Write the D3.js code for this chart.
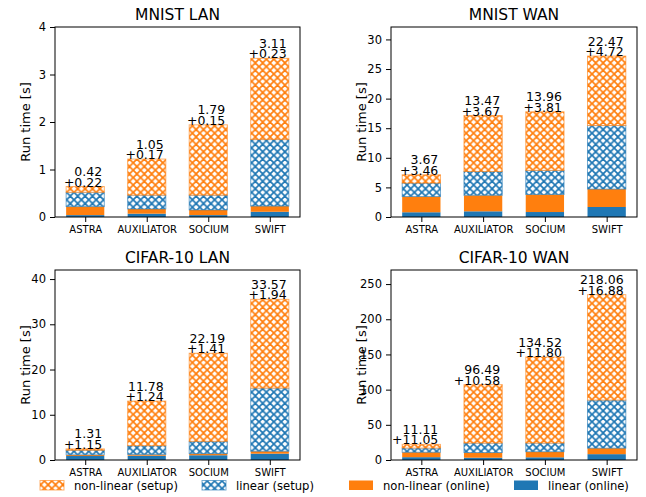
<!DOCTYPE html>
<html>
<head>
<meta charset="utf-8">
<script src="https://cdn.jsdelivr.net/npm/d3@7"></script>
<style>
  body { margin: 0; background: #fff; }
  svg { display: block; font-family: "DejaVu Sans", sans-serif; }
</style>
</head>
<body>
<div id="chart"></div>
<script>
// DATA
const categories = ["ASTRA", "AUXILIATOR", "SOCIUM", "SWIFT"];
const panelTitles = ["MNIST LAN", "MNIST WAN", "CIFAR-10 LAN", "CIFAR-10 WAN"];

const linearOnline = [
    [0.04, 0.07, 0.04, 0.11],
    [0.80, 0.96, 0.84, 1.69],
    [0.88, 0.95, 1.05, 1.40],
    [4.0, 3.3, 3.8, 8.3]
];
const nonLinearOnline = [
    [0.18, 0.10, 0.11, 0.12],
    [2.66, 2.71, 2.97, 3.03],
    [0.27, 0.29, 0.36, 0.54],
    [7.05, 7.28, 8.00, 8.58]
];
const linearSetup = [
    [0.30, 0.29, 0.31, 1.40],
    [2.27, 4.03, 4.06, 10.74],
    [1.00, 1.92, 2.72, 13.96],
    [5.95, 13.50, 12.30, 68.30]
];
const nonLinearSetup = [
    [0.12, 0.76, 1.48, 1.71],
    [1.40, 9.44, 9.90, 11.73],
    [0.31, 9.86, 19.47, 19.61],
    [5.16, 82.99, 122.22, 149.76]
];
// labels above bars
const setupLabels = [
    ["0.42", "1.05", "1.79", "3.11"],
    ["3.67", "13.47", "13.96", "22.47"],
    ["1.31", "11.78", "22.19", "33.57"],
    ["11.11", "96.49", "134.52", "218.06"]
];
const onlineLabels = [
    ["+0.22", "+0.17", "+0.15", "+0.23"],
    ["+3.46", "+3.67", "+3.81", "+4.72"],
    ["+1.15", "+1.24", "+1.41", "+1.94"],
    ["+11.05", "+10.58", "+11.80", "+16.88"]
];
const yMax = [4, 32.1, 42, 270];
const yTicks = [
    [0, 1, 2, 3, 4],
    [0, 5, 10, 15, 20, 25, 30],
    [0, 10, 20, 30, 40],
    [0, 50, 100, 150, 200, 250]
];

const legendLabels = ["non-linear (setup)", "linear (setup)", "non-linear (online)", "linear (online)"];

// COLORS
const BLUE = "#1f77b4";
const ORANGE = "#ff7f0e";

// LAYOUT
const width = 646, height = 497;
const boxes = [
    { l: 55, r: 300, t: 27, b: 217 },
    { l: 391, r: 637, t: 27, b: 217 },
    { l: 55, r: 300, t: 270, b: 460 },
    { l: 391, r: 637, t: 270, b: 460 }
];
const barW = 0.62;

const svg = d3.select("#chart").append("svg")
    .attr("width", width)
    .attr("height", height);

// HATCH PATTERNS
const defs = svg.append("defs");
function addHatch(id, color) {
    const p = 7.4;
    const pat = defs.append("pattern")
        .attr("id", id)
        .attr("patternUnits", "userSpaceOnUse")
        .attr("width", p).attr("height", p);
    pat.append("rect").attr("width", p).attr("height", p).attr("fill", "#fff");
    pat.append("path")
        .attr("d", `M${-p / 2},${p / 2} L${p / 2},${-p / 2} M0,${p} L${p},0 M${p / 2},${p * 1.5} L${p * 1.5},${p / 2}` +
            ` M${-p / 2},${p / 2} L${p / 2},${p * 1.5} M0,0 L${p},${p} M${p / 2},${-p / 2} L${p * 1.5},${p / 2}`)
        .attr("stroke", color)
        .attr("stroke-width", 1.7)
        .attr("fill", "none");
}
addHatch("hatchBlue", BLUE);
addHatch("hatchOrange", ORANGE);

const layers = [
    { data: linearOnline, fill: BLUE, hatched: false, color: BLUE },
    { data: nonLinearOnline, fill: ORANGE, hatched: false, color: ORANGE },
    { data: linearSetup, fill: "url(#hatchBlue)", hatched: true, color: BLUE },
    { data: nonLinearSetup, fill: "url(#hatchOrange)", hatched: true, color: ORANGE }
];

boxes.forEach(function (box, pi) {
    const g = svg.append("g");
    const span = 3 + barW;
    const x = d3.scaleLinear()
        .domain([-barW / 2 - 0.05 * span, 3 + barW / 2 + 0.05 * span])
        .range([box.l, box.r]);
    const y = d3.scaleLinear()
        .domain([0, yMax[pi]])
        .range([box.b, box.t]);
    const bw = x(barW) - x(0);

    // STACKED BARS
    const base = categories.map(() => 0);
    layers.forEach(function (layer) {
        g.selectAll(null)
            .data(categories)
            .enter().append("rect")
            .attr("x", (d, i) => x(i) - bw / 2)
            .attr("width", bw)
            .attr("y", (d, i) => y(base[i] + layer.data[pi][i]))
            .attr("height", (d, i) => y(base[i]) - y(base[i] + layer.data[pi][i]))
            .attr("fill", layer.fill)
            .attr("stroke", layer.hatched ? layer.color : "none")
            .attr("stroke-opacity", 0.6)
            .attr("stroke-width", 1);
        categories.forEach((c, i) => { base[i] += layer.data[pi][i]; });
    });

    // VALUE LABELS
    categories.forEach(function (c, i) {
        const top = y(base[i]);
        const lbl = g.append("text")
            .attr("text-anchor", "end")
            .attr("font-size", "12.5px")
            .attr("fill", "#000");
        lbl.append("tspan")
            .attr("x", x(i) + 17)
            .attr("y", top - 10.5)
            .text(setupLabels[pi][i]);
        lbl.append("tspan")
            .attr("x", x(i) + 17)
            .attr("y", top)
            .text(onlineLabels[pi][i]);
    });

    // AXES
    const yAxis = d3.axisLeft(y)
        .tickValues(yTicks[pi])
        .tickSize(5)
        .tickPadding(4)
        .tickFormat(d3.format("d"));
    const ya = g.append("g")
        .attr("transform", `translate(${box.l},0)`)
        .call(yAxis);
    ya.select(".domain").remove();
    ya.selectAll("text").attr("font-size", "11.5px").attr("font-family", "DejaVu Sans").attr("fill", "#000");

    const xAxis = d3.axisBottom(x)
        .tickValues([0, 1, 2, 3])
        .tickSize(5)
        .tickPadding(4)
        .tickFormat(i => categories[i]);
    const xa = g.append("g")
        .attr("transform", `translate(0,${box.b})`)
        .call(xAxis);
    xa.select(".domain").remove();
    xa.selectAll("text").attr("font-size", "10px").attr("font-family", "DejaVu Sans").attr("fill", "#000");

    // FRAME
    g.append("rect")
        .attr("x", box.l).attr("y", box.t)
        .attr("width", box.r - box.l).attr("height", box.b - box.t)
        .attr("fill", "none")
        .attr("stroke", "#000")
        .attr("stroke-width", 1);

    // TITLE
    g.append("text")
        .attr("x", (box.l + box.r) / 2)
        .attr("y", box.t - 7.5)
        .attr("text-anchor", "middle")
        .attr("font-size", "15.5px")
        .text(panelTitles[pi]);

    // Y LABEL
    const lx = box.l - 30;
    g.append("text")
        .attr("transform", `translate(${lx},${(box.t + box.b) / 2}) rotate(-90)`)
        .attr("text-anchor", "middle")
        .attr("dominant-baseline", "central")
        .attr("font-size", "13px")
        .text("Run time [s]");
});

// LEGEND
const legendX = [40, 202, 349, 514];
const legendFill = ["url(#hatchOrange)", "url(#hatchBlue)", ORANGE, BLUE];
const legendStroke = [ORANGE, BLUE, "none", "none"];
const leg = svg.append("g");
legendLabels.forEach(function (name, i) {
    leg.append("rect")
        .attr("x", legendX[i]).attr("y", 480.5)
        .attr("width", 24).attr("height", 9.5)
        .attr("fill", legendFill[i])
        .attr("stroke", legendStroke[i])
        .attr("stroke-opacity", 0.6);
    leg.append("text")
        .attr("x", legendX[i] + 34)
        .attr("y", 489.5)
        .attr("font-size", "11.6px")
        .text(name);
});
</script>
</body>
</html>
